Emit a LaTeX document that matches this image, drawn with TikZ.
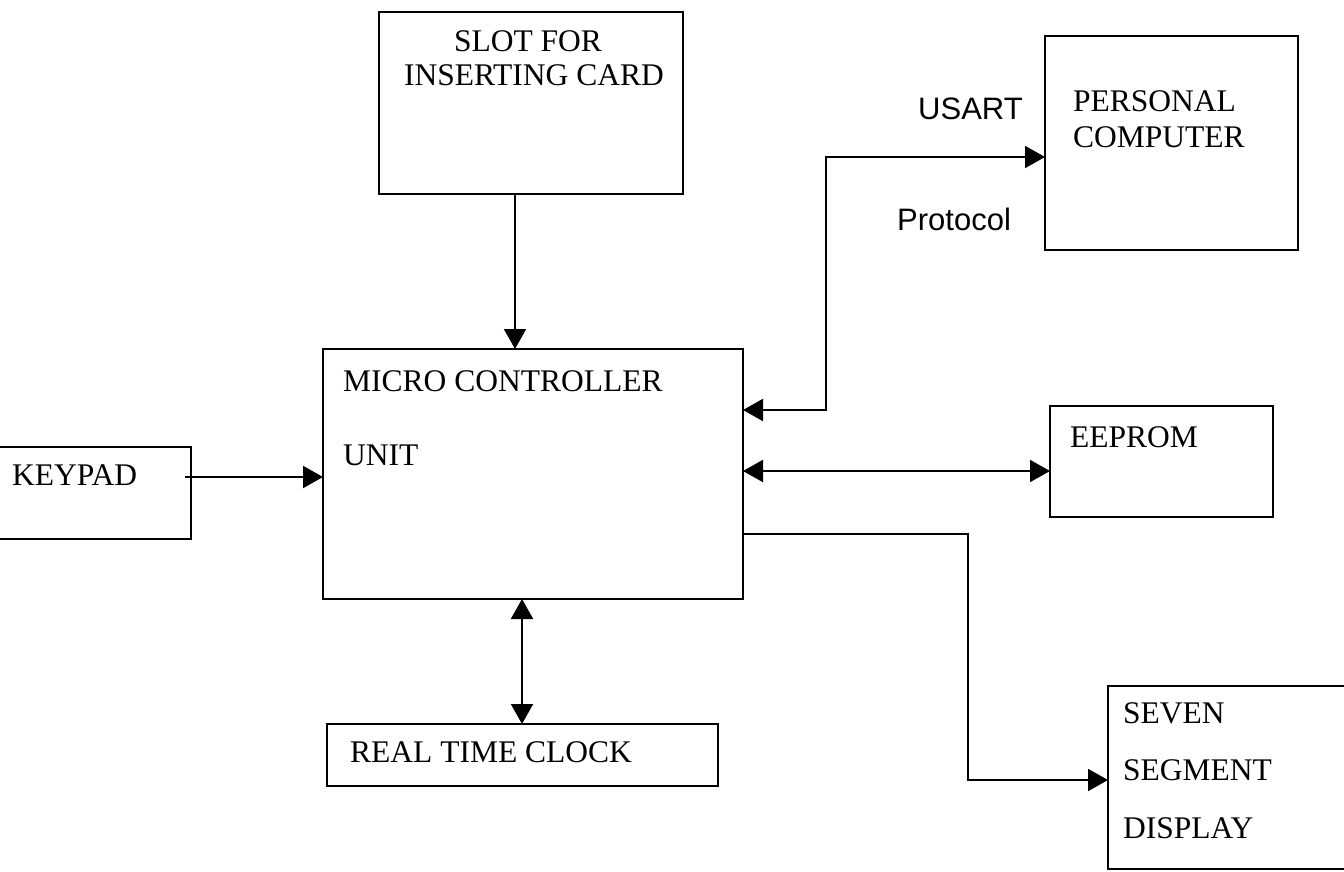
\documentclass[tikz,border=0pt]{standalone}
\usepackage{fontspec}
\setmainfont{Liberation Serif}
\newfontfamily\arialfont{Liberation Sans}
\usetikzlibrary{arrows.meta}
\begin{document}
\begin{tikzpicture}[x=1pt,y=-1pt,
  box/.style={draw, line width=2pt, rectangle, inner sep=0pt, outer sep=0pt},
  lbl/.style={anchor=base west, inner sep=0pt, font=\fontsize{31.5}{34}\selectfont},
  clbl/.style={anchor=base, inner sep=0pt, font=\fontsize{31.5}{34}\selectfont},
  slbl/.style={anchor=base west, inner sep=0pt, font=\arialfont\fontsize{31}{34}\selectfont},
  conn/.style={line width=2pt, line join=miter},
  arr/.style={conn, -{Triangle[length=20pt,width=22pt]}},
  dblarr/.style={conn, {Triangle[length=20pt,width=22pt]}-{Triangle[length=20pt,width=22pt]}}]
\useasboundingbox (0,0) rectangle (1344,872);
\clip (0,0) rectangle (1344,872);
\fill[white] (0,0) rectangle (1344,872);

% boxes
\node[box, minimum width=304pt, minimum height=182pt] (slot) at (531,103) {};
\node[box, minimum width=253pt, minimum height=214pt] (pc) at (1171.5,143) {};
\node[box, minimum width=420pt, minimum height=250pt] (mcu) at (533,474) {};
\node[box, minimum width=201pt, minimum height=92pt] (keypad) at (90.5,493) {};
\node[box, minimum width=223pt, minimum height=111pt] (ee) at (1161.5,461.5) {};
\node[box, minimum width=391pt, minimum height=62pt] (rtc) at (522.5,755) {};
\node[box, minimum width=252pt, minimum height=183pt] (seven) at (1234,777.5) {};

% texts
\node[clbl] (t1) at (528,52) {SLOT FOR};
\node[clbl] (t2) at (534,86) {INSERTING CARD};
\node[lbl] (t3) at (1073,112) {PERSONAL};
\node[lbl] (t4) at (1073,148) {COMPUTER};
\node[slbl] (t5) at (918,120) {USART};
\node[slbl] (t6) at (897,230) {Protocol};
\node[lbl] (t7) at (343,391) {MICRO CONTROLLER};
\node[lbl] (t8) at (343,465) {UNIT};
\node[lbl] (t9) at (12,485) {KEYPAD};
\node[lbl] (t10) at (1070,447) {EEPROM};
\node[lbl] (t11) at (350,762) {REAL TIME CLOCK};
\node[lbl] (t12) at (1123,723) {SEVEN};
\node[lbl] (t13) at (1123,780) {SEGMENT};
\node[lbl] (t14) at (1123,838) {DISPLAY};

% connector helper coordinates
\coordinate (slx) at (515,270);
\coordinate (kpy) at (250,477);
\coordinate (pcA) at (826,410);
\coordinate (pcB) at (826,157);
\coordinate (eeA) at (900,471);
\coordinate (rtcA) at (522,660);
\coordinate (s1) at (968,534);
\coordinate (s2) at (968,780);

% connectors
\draw[arr] (slx |- slot.south) -- (slx |- mcu.north);
\draw[arr] ([xshift=-6pt]kpy -| keypad.east) -- (kpy -| mcu.west);
\draw[dblarr] (pcA -| mcu.east) -- (pcA) -- (pcB) -- (pcB -| pc.west);
\draw[dblarr] (eeA -| mcu.east) -- (eeA -| ee.west);
\draw[dblarr] (rtcA |- mcu.south) -- (rtcA |- rtc.north);
\draw[arr] (s1 -| mcu.east) -- (s1) -- (s2) -- (s2 -| seven.west);
\end{tikzpicture}
\end{document}
